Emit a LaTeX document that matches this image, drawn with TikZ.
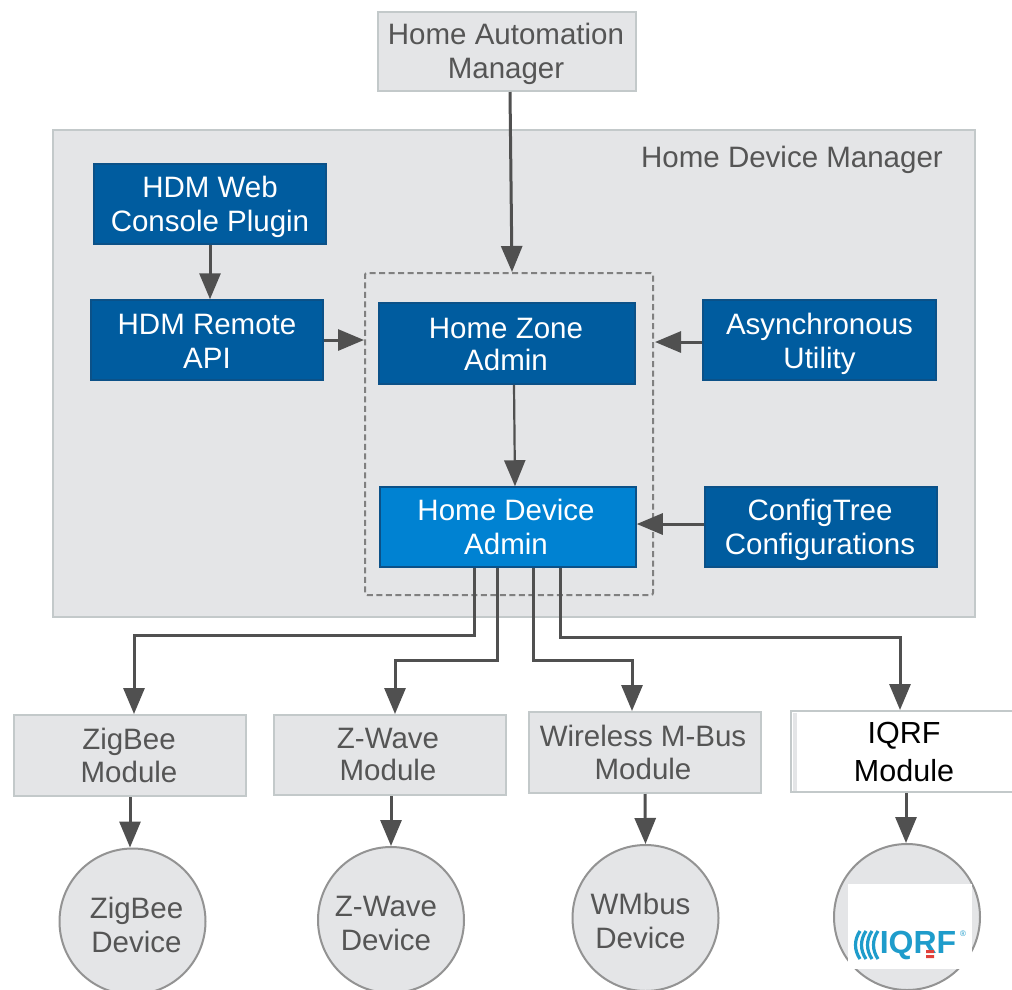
\documentclass[tikz,border=0pt]{standalone}
\usepackage{fontspec}
\setmainfont{Liberation Sans}
\usetikzlibrary{arrows.meta}
\definecolor{panelgrey}{HTML}{E4E5E7}
\definecolor{edgegrey}{HTML}{C3C9CA}
\definecolor{darkblue}{HTML}{005C9F}
\definecolor{darkedge}{HTML}{0B5188}
\definecolor{lightblue}{HTML}{0082D2}
\definecolor{wire}{HTML}{505050}
\definecolor{txtgrey}{HTML}{555555}
\definecolor{logoblue}{HTML}{1E9CCB}
\definecolor{logored}{HTML}{E0403A}
\tikzset{
  x=1pt,y=-1pt,
  base/.style={rectangle,inner sep=0pt,align=center,font=\fontsize{29.5}{34}\selectfont},
  tight/.style={font=\fontsize{29.5}{32.5}\selectfont},
  greybox/.style={base,draw=edgegrey,line width=2pt,fill=panelgrey,text=txtgrey},
  bluebox/.style={base,draw=darkedge,line width=1.5pt,fill=darkblue,text=white},
  brightbox/.style={bluebox,fill=lightblue},
  whitebox/.style={base,draw=edgegrey,line width=2pt,fill=white,text=black,font=\fontsize{30.5}{38}\selectfont},
  device/.style={base,circle,draw=gray!85,line width=2pt,fill=panelgrey,text=txtgrey,minimum size=146pt},
  conn/.style={draw=wire,line width=3pt,-{Triangle[length=26pt,width=21pt,color=wire]}},
  thinconn/.style={conn,line width=2.2pt}
}
% text block moved by dx (right) and dy (down) from the centre of its node
\newcommand{\tx}[3]{\raisebox{\dimexpr-10.4pt-#2pt\relax}[0pt][0pt]{\makebox[0pt]{\hspace*{\dimexpr2\dimexpr#1pt\relax\relax}\begin{tabular}{@{}c@{}}#3\end{tabular}}}}
\begin{document}
\begin{tikzpicture}
\useasboundingbox (0,0) rectangle (1012,989);
\clip (0,0) rectangle (1012,989);
\fill[white] (0,0) rectangle (1012,989);
\node[greybox,minimum width=922pt,minimum height=487pt] (hdm) at (514,373.5) {};
\node[base,text=txtgrey,anchor=center] (hdmlabel) at (792,160) {Home Device Manager};
\node[draw=gray,dash pattern=on 6pt off 3.5pt,line width=2pt,minimum width=288pt,minimum height=322pt,inner sep=0pt,rounded corners=2pt] (group) at (509,434) {};
\node[greybox,minimum width=258pt,minimum height=79pt] (ham) at (507,51.5) {\tx{-1}{-1}{Home Automation\\Manager}};
\node[bluebox,minimum width=232pt,minimum height=80pt] (web) at (210,204) {\tx{0}{0}{HDM Web\\Console Plugin}};
\node[bluebox,minimum width=232pt,minimum height=80pt] (remote) at (207,340) {\tx{0}{1}{HDM Remote\\API}};
\node[bluebox,tight,minimum width=256pt,minimum height=81pt] (hza) at (507,343.5) {\tx{-1}{0.5}{Home Zone\\Admin}};
\node[brightbox,minimum width=256pt,minimum height=80pt] (hda) at (508,527) {\tx{-2}{0}{Home Device\\Admin}};
\node[bluebox,minimum width=233pt,minimum height=80pt] (async) at (819.5,340) {\tx{0}{1}{Asynchronous\\Utility}};
\node[bluebox,minimum width=232pt,minimum height=80pt] (config) at (821,527) {\tx{-1}{0}{ConfigTree\\Configurations}};
\node[greybox,tight,minimum width=232pt,minimum height=81pt] (mzig) at (130,755.5) {\tx{-1}{0}{ZigBee\\Module}};
\node[greybox,tight,minimum width=232pt,minimum height=80pt] (mzw) at (390,755) {\tx{-2}{-1}{Z-Wave\\Module}};
\node[greybox,tight,minimum width=232pt,minimum height=81pt] (mwm) at (645,752.5) {\tx{-2}{0}{Wireless M-Bus\\Module}};
\node[whitebox,minimum width=226pt,minimum height=81pt] (miq) at (904,751.5) {\tx{0}{-1}{IQRF\\Module}};
\fill[panelgrey] (792.5,713) rectangle (797,790.5);
\node[device] (dzig) at (132.5,921.5) {\tx{4}{3}{ZigBee\\Device}};
\node[device] (dzw) at (391,920) {\tx{-5}{3}{Z-Wave\\Device}};
\node[device] (dwm) at (645.5,918) {\tx{-5}{3}{WMbus\\Device}};
\node[device] (diq) at (907,917) {};
\node[rectangle,fill=white,minimum width=124pt,minimum height=85pt,inner sep=0pt] (logo) at (910,926) {};
\begin{scope}[draw=logoblue,line width=3.2pt]
\draw (860,931) .. controls (854,940) and (854,950) .. (860,959);
\draw (866,931) .. controls (860,940) and (860,950) .. (866,959);
\draw (872,931) .. controls (866,940) and (866,950) .. (872,959);
\draw (878,931) .. controls (872,940) and (872,950) .. (878,959);
\end{scope}
\node[inner sep=0pt,text=logoblue,font=\fontsize{32}{32}\bfseries\selectfont] (logotext) at (918,945) {IQRF};
\fill[logored] (926,950) rectangle (934,953) (926,955) rectangle (934,958);
\node[inner sep=0pt,text=logoblue,font=\fontsize{8}{8}\selectfont] (logomark) at (963,934) {®};
\draw[conn] (ham.south) ++(3,0) -- (group.north -| 512,0);
\draw[conn] (web.south) -- (remote.north -| web.south);
\draw[conn] (remote.east) -- (group.west |- remote.east);
\draw[conn] (async.west) ++(0,2) -- (655,342);
\draw[conn] (config.west) ++(0,-3) -- (hda.east |- 0,524);
\draw[thinconn] (hza.south) ++(7,0) -- (hda.north -| 515,0);
\draw[conn] (hda.south -| 474,0) |- (134,635) -- (mzig.north -| 134,0);
\draw[conn] (hda.south -| 497,0) |- (395,660) -- (mzw.north -| 395,0);
\draw[conn] (hda.south -| 533,0) |- (632,660) -- (mwm.north -| 632,0);
\draw[conn] (hda.south -| 560,0) |- (900,637) -- (miq.north -| 900,0);
\draw[conn] (mzig.south) -- (dzig.north -| mzig.south);
\draw[conn] (mzw.south) ++(1,0) -- (dzw.north);
\draw[conn] (mwm.south) -- (dwm.north);
\draw[conn] (miq.south) ++(2,0) -- (diq.north -| 906,0);
\end{tikzpicture}
\end{document}
